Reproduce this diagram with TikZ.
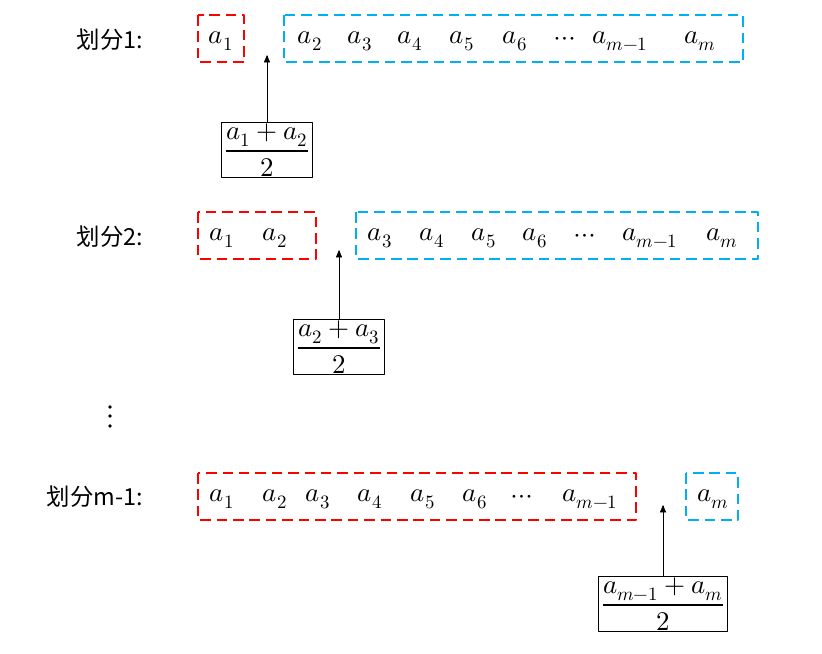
\documentclass[tikz,border=0pt]{standalone}
\usepackage{amsmath}
\usepackage{unicode-math}
\setmathfont{Latin Modern Math}
\newfontfamily\cjk{Noto Sans CJK SC}
\usetikzlibrary{arrows}
\definecolor{rr}{rgb}{1.,0.,0.}
\definecolor{bb}{rgb}{0.,0.69,0.94}
\tikzset{
  lab/.style={font=\cjk\fontsize{20}{24}\selectfont},
  elt/.style={font=\fontsize{23}{27}\selectfont},
  rbox/.style={draw=rr,dashed,line width=1.6pt,dash pattern=on 9pt off 5pt},
  bbox/.style={draw=bb,dashed,line width=1.6pt,dash pattern=on 9pt off 5pt},
  fbox/.style={draw,line width=0.8pt,font=\fontsize{23}{27}\selectfont,inner xsep=3pt,inner ysep=1pt}
}
\begin{document}
\begin{tikzpicture}[line cap=butt,line join=round,>=triangle 45,x=0.03cm,y=-0.03cm]
	\useasboundingbox (0,0) rectangle (822,654);
	% row 1
	\node[lab] (l1) at (110,40) {划分1:};
	\draw[rbox] (198,15) rectangle (244,62);
	\draw[bbox] (284,15) rectangle (743,62);
	\node[elt] (a11) at (221,41) {$a_1$};
	\foreach \x/\t in {310/a_2,360/a_3,410/a_4,462/a_5,515/a_6,565/\cdots,620/a_{m-1},700/a_m}
		\node[elt] at (\x,41) {$\t$};
	\node[fbox] (f1) at (267,150) {$\dfrac{a_1+a_2}{2}$};
	\draw[->] (f1.north) -- (267,55);
	% row 2
	\node[lab] (l2) at (110,237) {划分2:};
	\draw[rbox] (198,212) rectangle (316,259);
	\draw[bbox] (356,212) rectangle (758,259);
	\foreach \x/\t in {222/a_1,275/a_2,380/a_3,432/a_4,484/a_5,535/a_6,585/\cdots,650/a_{m-1},722/a_m}
		\node[elt] at (\x,238) {$\t$};
	\node[fbox] (f2) at (339,347) {$\dfrac{a_2+a_3}{2}$};
	\draw[->] (f2.north) -- (339,250);
	% dots
	\foreach \y in {407,416,426}
		\fill (110,\y) circle (1.8);
	% row 3
	\node[lab] (l3) at (95,497) {划分m-1:};
	\draw[rbox] (198,473) rectangle (636,520);
	\draw[bbox] (686,473) rectangle (738,520);
	\foreach \x/\t in {222/a_1,275/a_2,318/a_3,370/a_4,423/a_5,475/a_6,522/\cdots,590/a_{m-1},713/a_m}
		\node[elt] at (\x,499) {$\t$};
	\node[fbox] (f3) at (663,604) {$\dfrac{a_{m-1}+a_m}{2}$};
	\draw[->] (f3.north) -- (663,505);
\end{tikzpicture}
\end{document}
